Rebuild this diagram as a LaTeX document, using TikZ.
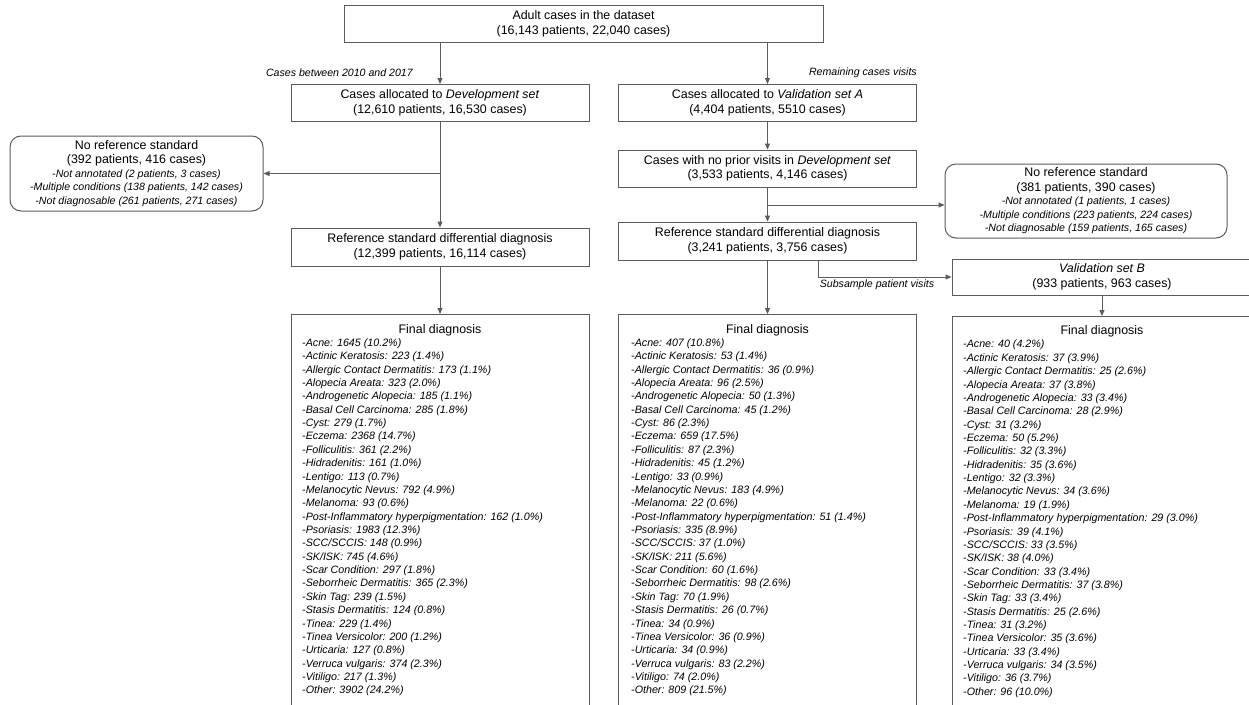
\documentclass[tikz,border=0pt]{standalone}
\usepackage{fontspec}
\setmainfont{Liberation Sans}
\usetikzlibrary{positioning,arrows.meta}

\definecolor{linegray}{HTML}{5C5C5C}

\newcommand{\subline}[1]{{\fontsize{10.6}{12}\selectfont\itshape #1}}

\tikzset{
  box/.style={draw=linegray, line width=1pt, fill=white, minimum width=298pt,
    minimum height=37pt, align=center, inner sep=0pt,
    font=\fontsize{12.4}{14.5}\selectfont},
  noref/.style={box, rounded corners=11pt},
  flow/.style={draw=linegray, line width=1pt, -{Triangle[length=6pt,width=5pt]}},
  note/.style={font=\fontsize{10.6}{12}\selectfont\itshape, inner sep=0pt},
  listtxt/.style={align=left, anchor=north west, inner sep=0pt,
    font=\fontsize{10.7}{13.36}\selectfont\itshape},
}

\begin{document}
\begin{tikzpicture}[x=1pt,y=-1pt]
    \useasboundingbox (0,0) rectangle (1249,704);
    \clip (0,0) rectangle (1249,704);

    % top
    \node[box, minimum width=479pt] (top) at (583.5,24)
        {Adult cases in the dataset\\(16,143 patients, 22,040 cases)};

    % development branch
    \node[box] (dev) at (440,103)
        {Cases allocated to \textit{Development set}\\(12,610 patients, 16,530 cases)};
    \node[noref, minimum width=253pt, minimum height=75pt] (norefL) at (136.5,173.5)
        {No reference standard\\(392 patients, 416 cases)\\[-1pt]
         \subline{-Not annotated (2 patients, 3 cases)}\\[-1pt]
         \subline{-Multiple conditions (138 patients, 142 cases)}\\[-1pt]
         \subline{-Not diagnosable (261 patients, 271 cases)}};
    \node[box, minimum height=38pt] (refL) at (440,247)
        {Reference standard differential diagnosis\\(12,399 patients, 16,114 cases)};
    \node[box, anchor=north, minimum height=420pt] (finL) at (440,314) {};
    \node[font=\fontsize{12.4}{14}\selectfont] (titL) at (440,330) {Final diagnosis};
    \node[listtxt] (listL) at (302,338.5) {%
        -Acne: 1645 (10.2\%)\\
        -Actinic Keratosis: 223 (1.4\%)\\
        -Allergic Contact Dermatitis: 173 (1.1\%)\\
        -Alopecia Areata: 323 (2.0\%)\\
        -Androgenetic Alopecia: 185 (1.1\%)\\
        -Basal Cell Carcinoma: 285 (1.8\%)\\
        -Cyst: 279 (1.7\%)\\
        -Eczema: 2368 (14.7\%)\\
        -Folliculitis: 361 (2.2\%)\\
        -Hidradenitis: 161 (1.0\%)\\
        -Lentigo: 113 (0.7\%)\\
        -Melanocytic Nevus: 792 (4.9\%)\\
        -Melanoma: 93 (0.6\%)\\
        -Post-Inflammatory hyperpigmentation: 162 (1.0\%)\\
        -Psoriasis: 1983 (12.3\%)\\
        -SCC/SCCIS: 148 (0.9\%)\\
        -SK/ISK: 745 (4.6\%)\\
        -Scar Condition: 297 (1.8\%)\\
        -Seborrheic Dermatitis: 365 (2.3\%)\\
        -Skin Tag: 239 (1.5\%)\\
        -Stasis Dermatitis: 124 (0.8\%)\\
        -Tinea: 229 (1.4\%)\\
        -Tinea Versicolor: 200 (1.2\%)\\
        -Urticaria: 127 (0.8\%)\\
        -Verruca vulgaris: 374 (2.3\%)\\
        -Vitiligo: 217 (1.3\%)\\
        -Other: 3902 (24.2\%)};

    % validation branch
    \node[box] (valA) at (767.5,103)
        {Cases allocated to \textit{Validation set A}\\(4,404 patients, 5510 cases)};
    \node[box] (noprior) at (767.5,168.5)
        {Cases with no prior visits in \textit{Development set}\\(3,533 patients, 4,146 cases)};
    \node[noref, minimum width=282pt, minimum height=74pt] (norefR) at (1086,201)
        {No reference standard\\(381 patients, 390 cases)\\[-1pt]
         \subline{-Not annotated (1 patients, 1 cases)}\\[-1pt]
         \subline{-Multiple conditions (223 patients, 224 cases)}\\[-1pt]
         \subline{-Not diagnosable (159 patients, 165 cases)}};
    \node[box, minimum height=38pt] (refR) at (767.5,241)
        {Reference standard differential diagnosis\\(3,241 patients, 3,756 cases)};
    \node[box, anchor=north, minimum height=420pt] (finM) at (767.5,314) {};
    \node[font=\fontsize{12.4}{14}\selectfont] (titM) at (767.5,330) {Final diagnosis};
    \node[listtxt] (listM) at (631,338.5) {%
        -Acne: 407 (10.8\%)\\
        -Actinic Keratosis: 53 (1.4\%)\\
        -Allergic Contact Dermatitis: 36 (0.9\%)\\
        -Alopecia Areata: 96 (2.5\%)\\
        -Androgenetic Alopecia: 50 (1.3\%)\\
        -Basal Cell Carcinoma: 45 (1.2\%)\\
        -Cyst: 86 (2.3\%)\\
        -Eczema: 659 (17.5\%)\\
        -Folliculitis: 87 (2.3\%)\\
        -Hidradenitis: 45 (1.2\%)\\
        -Lentigo: 33 (0.9\%)\\
        -Melanocytic Nevus: 183 (4.9\%)\\
        -Melanoma: 22 (0.6\%)\\
        -Post-Inflammatory hyperpigmentation: 51 (1.4\%)\\
        -Psoriasis: 335 (8.9\%)\\
        -SCC/SCCIS: 37 (1.0\%)\\
        -SK/ISK: 211 (5.6\%)\\
        -Scar Condition: 60 (1.6\%)\\
        -Seborrheic Dermatitis: 98 (2.6\%)\\
        -Skin Tag: 70 (1.9\%)\\
        -Stasis Dermatitis: 26 (0.7\%)\\
        -Tinea: 34 (0.9\%)\\
        -Tinea Versicolor: 36 (0.9\%)\\
        -Urticaria: 34 (0.9\%)\\
        -Verruca vulgaris: 83 (2.2\%)\\
        -Vitiligo: 74 (2.0\%)\\
        -Other: 809 (21.5\%)};

    % validation set B
    \node[box, minimum width=300pt, minimum height=36pt] (valB) at (1102,277)
        {\textit{Validation set B}\\(933 patients, 963 cases)};
    \node[box, anchor=north, minimum width=300pt, minimum height=420pt] (finR) at (1102,316) {};
    \node[font=\fontsize{12.4}{14}\selectfont] (titR) at (1102,331.5) {Final diagnosis};
    \node[listtxt] (listR) at (963,340) {%
        -Acne: 40 (4.2\%)\\
        -Actinic Keratosis: 37 (3.9\%)\\
        -Allergic Contact Dermatitis: 25 (2.6\%)\\
        -Alopecia Areata: 37 (3.8\%)\\
        -Androgenetic Alopecia: 33 (3.4\%)\\
        -Basal Cell Carcinoma: 28 (2.9\%)\\
        -Cyst: 31 (3.2\%)\\
        -Eczema: 50 (5.2\%)\\
        -Folliculitis: 32 (3.3\%)\\
        -Hidradenitis: 35 (3.6\%)\\
        -Lentigo: 32 (3.3\%)\\
        -Melanocytic Nevus: 34 (3.6\%)\\
        -Melanoma: 19 (1.9\%)\\
        -Post-Inflammatory hyperpigmentation: 29 (3.0\%)\\
        -Psoriasis: 39 (4.1\%)\\
        -SCC/SCCIS: 33 (3.5\%)\\
        -SK/ISK: 38 (4.0\%)\\
        -Scar Condition: 33 (3.4\%)\\
        -Seborrheic Dermatitis: 37 (3.8\%)\\
        -Skin Tag: 33 (3.4\%)\\
        -Stasis Dermatitis: 25 (2.6\%)\\
        -Tinea: 31 (3.2\%)\\
        -Tinea Versicolor: 35 (3.6\%)\\
        -Urticaria: 33 (3.4\%)\\
        -Verruca vulgaris: 34 (3.5\%)\\
        -Vitiligo: 36 (3.7\%)\\
        -Other: 96 (10.0\%)};

    % connectors
    \draw[flow] (dev.north |- top.south) -- (dev.north);
    \draw[flow] (valA.north |- top.south) -- (valA.north);
    \node[note, anchor=east] (devnote) at (413,73) {Cases between 2010 and 2017};
    \node[note, anchor=east] (valnote) at (917,73) {Remaining cases visits};

    \draw[flow] (dev) -- (refL);
    \draw[flow] (dev.south |- norefL.east) -- (norefL.east);
    \draw[flow] (refL) -- (finL);

    \draw[flow] (valA) -- (noprior);
    \draw[flow] (noprior) -- (refR);
    \coordinate (splitR) at (767.5,205);
    \draw[flow] (splitR) -- (splitR -| norefR.west);
    \draw[flow] (refR) -- (finM);

    \coordinate (subsA) at (818,260);
    \draw[flow] (subsA) |- (valB.west);
    \node[note] (subsnote) at (877,285) {Subsample patient visits};
    \draw[flow] (valB) -- (finR);
\end{tikzpicture}
\end{document}
